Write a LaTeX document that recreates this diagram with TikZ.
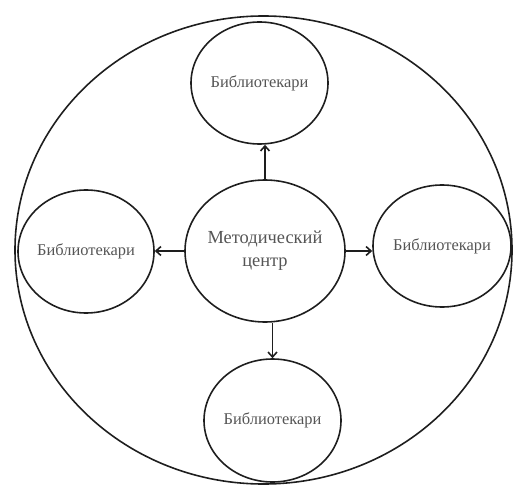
\documentclass[tikz,border=0pt]{standalone}
\usepackage{fontspec}
\setmainfont{Liberation Serif}
\usetikzlibrary{shapes.geometric,arrows.meta}
\definecolor{labelgray}{RGB}{85,85,85}
\definecolor{inkline}{RGB}{30,30,30}
% zero-width line so the oval keeps its set size
\newcommand{\zw}[1]{\makebox[0pt]{#1}}
\begin{document}
\begin{tikzpicture}[x=1bp,y=-1bp,
  oval/.style={draw=inkline, ellipse, line width=1.6pt, inner sep=0pt, text=labelgray,
    font=\fontsize{16.5}{20}\selectfont, align=center},
  hub/.style={oval, font=\fontsize{18.5}{23}\selectfont},
  link/.style={draw=inkline, line width=1.8pt, -{Straight Barb[length=5pt,width=9pt,line width=1.6pt]}}]
  \useasboundingbox (0,0) rectangle (523,486);
  % outer boundary
  \node[oval, minimum width=497bp, minimum height=468bp] (outer) at (263.5,250) {};
  % centre and the four satellites
  \node[hub, minimum width=160bp, minimum height=142bp] (c) at (265,251) {\zw{Методический}\\\zw{центр}};
  \node[oval, minimum width=137bp, minimum height=122bp] (t) at (259.5,83) {\zw{Библиотекари}};
  \node[oval, minimum width=136bp, minimum height=123bp] (l) at (86,251.5) {\zw{Библиотекари}};
  \node[oval, minimum width=138bp, minimum height=122bp] (r) at (442,246) {\zw{Библиотекари}};
  \node[oval, minimum width=137bp, minimum height=123bp] (b) at (272.5,420.5) {\zw{Библиотекари}};
  % connectors
  \draw[link] (c.north) -- (c.north |- t.south);
  \draw[link] (b.north |- c.south) -- (b.north);
  \draw[link] (c.west) -- (c.west -| l.east);
  \draw[link] (c.east) -- (c.east -| r.west);
\end{tikzpicture}
\end{document}
